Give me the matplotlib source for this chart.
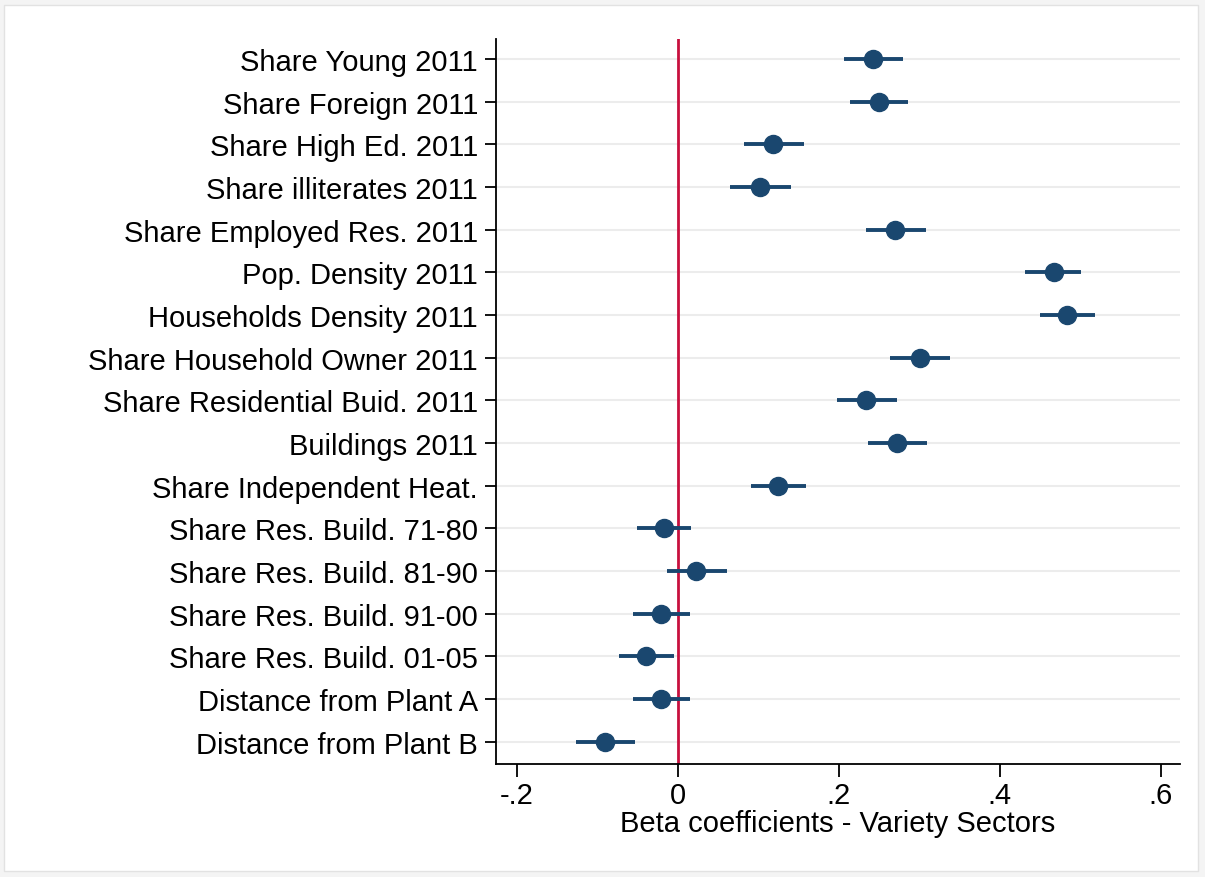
import matplotlib

matplotlib.use("Agg")
import matplotlib.pyplot as plt
from matplotlib.patches import Rectangle

plt.rcParams["font.family"] = ["Liberation Sans", "DejaVu Sans"]

# coefficient estimates with 95% confidence bounds, top to bottom
labels = [
    "Share Young 2011",
    "Share Foreign 2011",
    "Share High Ed. 2011",
    "Share illiterates 2011",
    "Share Employed Res. 2011",
    "Pop. Density 2011",
    "Households Density 2011",
    "Share Household Owner 2011",
    "Share Residential Buid. 2011",
    "Buildings 2011",
    "Share Independent Heat.",
    "Share Res. Build. 71-80",
    "Share Res. Build. 81-90",
    "Share Res. Build. 91-00",
    "Share Res. Build. 01-05",
    "Distance from Plant A",
    "Distance from Plant B",
]
beta = [0.242, 0.250, 0.118, 0.102, 0.270, 0.467, 0.484, 0.301, 0.234, 0.272,
        0.124, -0.017, 0.022, -0.021, -0.040, -0.021, -0.091]
ci_low = [0.206, 0.214, 0.082, 0.065, 0.234, 0.432, 0.450, 0.263, 0.198, 0.236,
          0.091, -0.051, -0.014, -0.056, -0.073, -0.056, -0.127]
ci_high = [0.280, 0.286, 0.157, 0.140, 0.308, 0.501, 0.518, 0.338, 0.272, 0.309,
           0.159, 0.016, 0.061, 0.015, -0.005, 0.015, -0.053]

xticks = [-0.2, 0, 0.2, 0.4, 0.6]
xtick_labels = ["-.2", "0", ".2", ".4", ".6"]

NAVY = "#1a476f"
RED = "#c8103e"
FS = 21

fig = plt.figure(figsize=(12.05, 8.78), dpi=100, facecolor="#f4f4f4")
fig.patches.append(
    Rectangle((4 / 1205, 6 / 878), 1194 / 1205, 866 / 878, transform=fig.transFigure,
              facecolor="white", edgecolor="#e2e2e2", linewidth=1.0, zorder=-10)
)
ax = fig.add_axes([496 / 1205, 1 - 765 / 878, 684 / 1205, 725 / 878])
ax.set_facecolor("white")

n = len(labels)
y = list(range(n, 0, -1))

for yi in y:
    ax.axhline(yi, color="#ececec", linewidth=1.5, zorder=0)

ax.axvline(0, color=RED, linewidth=2.0, zorder=1)

ax.hlines(y, ci_low, ci_high, color=NAVY, linewidth=2.8, zorder=2)
ax.plot(beta, y, "o", color=NAVY, markersize=13, zorder=3)

ax.set_xlim(-0.226, 0.624)
ax.set_ylim(0.48, n + 0.47)
ax.set_yticks(y)
ax.set_yticklabels(labels, fontsize=FS)
ax.set_xticks(xticks)
ax.set_xticklabels(xtick_labels, fontsize=FS)
ax.set_xlabel("Beta coefficients - Variety Sectors", fontsize=FS, labelpad=0)

ax.spines["top"].set_visible(False)
ax.spines["right"].set_visible(False)
for side in ("left", "bottom"):
    ax.spines[side].set_linewidth(1.3)
    ax.spines[side].set_color("black")
ax.tick_params(axis="y", length=8, width=1.3, pad=5)
ax.tick_params(axis="x", length=9, width=1.3, pad=3)

fig.savefig("out.png", dpi=100, facecolor=fig.get_facecolor())
